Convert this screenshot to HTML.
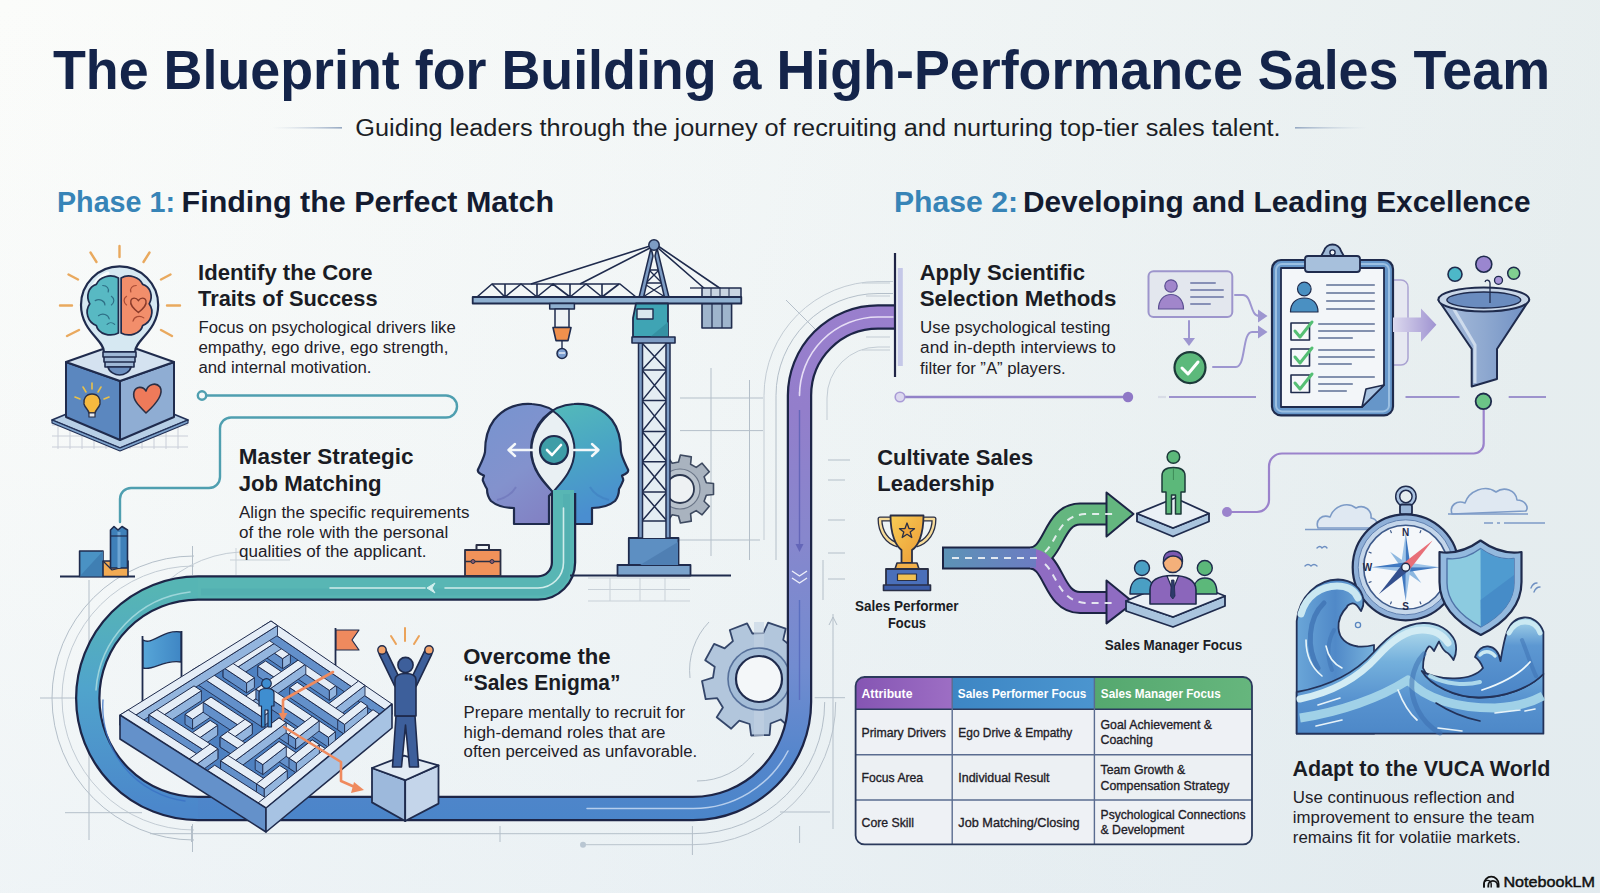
<!DOCTYPE html>
<html><head><meta charset="utf-8"><title>The Blueprint for Building a High-Performance Sales Team</title>
<style>
html,body{margin:0;padding:0;width:1600px;height:893px;overflow:hidden;background:#f3f6f7;}
svg{display:block;font-family:"Liberation Sans",sans-serif;}
.h{font-weight:bold;fill:#1a1c24;font-size:22px;}
.b{fill:#1e2027;font-size:16px;}
.lb{font-weight:bold;fill:#1a1c24;font-size:14.5px;}
.tb{fill:#1e2027;font-size:13.5px;stroke:#1e2027;stroke-width:0.35px;}
.th{fill:#fff;font-size:13.5px;font-weight:bold;}
.ol{stroke:#1c2444;stroke-width:2;fill:none;stroke-linejoin:round;stroke-linecap:round;}
.bp{stroke:#b9c3cc;stroke-width:1;fill:none;}
</style></head>
<body>
<svg width="1600" height="893" viewBox="0 0 1600 893">
<defs>
<linearGradient id="bg" x1="0" y1="0" x2="1" y2="0.15">
<stop offset="0" stop-color="#fbfcfa"/><stop offset="0.5" stop-color="#f2f6f6"/><stop offset="1" stop-color="#e7eeef"/>
</linearGradient>
<linearGradient id="bgv" x1="0" y1="0" x2="0" y2="1">
<stop offset="0" stop-color="#d7e4f0" stop-opacity="0"/><stop offset="0.5" stop-color="#d7e4f0" stop-opacity="0.08"/><stop offset="1" stop-color="#d7e4f0" stop-opacity="0.28"/>
</linearGradient>
<linearGradient id="subL" x1="0" x2="1"><stop offset="0" stop-color="#c7d2de" stop-opacity="0"/><stop offset="1" stop-color="#95a8c2"/></linearGradient>
<linearGradient id="subR" x1="0" x2="1"><stop offset="0" stop-color="#95a8c2"/><stop offset="1" stop-color="#c7d2de" stop-opacity="0"/></linearGradient>
<linearGradient id="gB" gradientUnits="userSpaceOnUse" x1="0" y1="590" x2="0" y2="808"><stop offset="0" stop-color="#56b5b4"/><stop offset="0.45" stop-color="#50a4cc"/><stop offset="1" stop-color="#4b87cb"/></linearGradient>
<linearGradient id="gC" gradientUnits="userSpaceOnUse" x1="0" y1="822" x2="0" y2="305"><stop offset="0" stop-color="#4a85c9"/><stop offset="0.12" stop-color="#5486cc"/><stop offset="0.3" stop-color="#728cd0"/><stop offset="0.55" stop-color="#8787cd"/><stop offset="0.8" stop-color="#937ecb"/><stop offset="1" stop-color="#9a7fcd"/></linearGradient>
<linearGradient id="hL" x1="0" y1="0" x2="0.6" y2="1"><stop offset="0" stop-color="#7694d0"/><stop offset="0.6" stop-color="#8392cd"/><stop offset="1" stop-color="#8282c4"/></linearGradient>
<linearGradient id="hR" x1="0" y1="0" x2="0.3" y2="1"><stop offset="0" stop-color="#55bdb8"/><stop offset="0.5" stop-color="#4aa6c4"/><stop offset="1" stop-color="#4a8ed0"/></linearGradient>
<linearGradient id="arr" x1="0" x2="1"><stop offset="0" stop-color="#dcd9ee"/><stop offset="1" stop-color="#9f93d1"/></linearGradient>
<linearGradient id="fun" x1="0" x2="1"><stop offset="0" stop-color="#a9bddb"/><stop offset="0.5" stop-color="#8fa9d0"/><stop offset="1" stop-color="#6f8fc3"/></linearGradient>
<linearGradient id="road" gradientUnits="userSpaceOnUse" x1="942" y1="0" x2="1036" y2="0"><stop offset="0" stop-color="#5c93b6"/><stop offset="1" stop-color="#6c7cc2"/></linearGradient>
<linearGradient id="gold" x1="0" y1="0" x2="1" y2="1"><stop offset="0" stop-color="#f8cc55"/><stop offset="1" stop-color="#eb9a35"/></linearGradient>
<linearGradient id="wv1" x1="0" y1="0" x2="1" y2="0"><stop offset="0" stop-color="#6aa6d8"/><stop offset="0.5" stop-color="#5089c8"/><stop offset="1" stop-color="#78b2dc"/></linearGradient>
<linearGradient id="wv2" x1="0" y1="0" x2="0" y2="1"><stop offset="0" stop-color="#b9e0ee"/><stop offset="0.35" stop-color="#74b0dc"/><stop offset="0.7" stop-color="#5792cf"/><stop offset="1" stop-color="#4d88c8"/></linearGradient>
<linearGradient id="wv3" x1="0" y1="0" x2="0" y2="1"><stop offset="0" stop-color="#a9d7ea"/><stop offset="0.35" stop-color="#5d98d2"/><stop offset="1" stop-color="#4a84c6"/></linearGradient>
<linearGradient id="thP" x1="0" x2="1"><stop offset="0" stop-color="#8555b3"/><stop offset="1" stop-color="#9d6ec4"/></linearGradient>
<linearGradient id="thB" x1="0" x2="1"><stop offset="0" stop-color="#3d86c4"/><stop offset="1" stop-color="#4b95cf"/></linearGradient>
<linearGradient id="thG" x1="0" x2="1"><stop offset="0" stop-color="#55a86f"/><stop offset="1" stop-color="#66b67d"/></linearGradient>
<linearGradient id="flagB" x1="0" x2="1"><stop offset="0" stop-color="#57a6d8"/><stop offset="1" stop-color="#3f86c4"/></linearGradient>
</defs>
<rect width="1600" height="893" fill="url(#bg)"/>
<rect width="1600" height="893" fill="url(#bgv)"/>

<!-- BLUEPRINT -->
<g id="blueprint" fill="none" stroke="#b4bfc9" stroke-width="1">
<!-- left curve arcs -->
<path d="M194 556 A142 142 0 0 0 194 840"/>
<path d="M194 566 A132 132 0 0 0 194 830" stroke="#c3ccd4"/>
<path d="M89 580 V840 M40 698 H79 M65 812.7 H142 M192.5 546 V575 M192.5 824 V852"/>
<!-- bottom lines -->
<path d="M150 833.7 H693 A131.7 131.7 0 0 0 824.7 702"/>
<path d="M583 844.7 H693 A142.7 142.7 0 0 0 835.7 702" stroke="#b9c3cc"/>
<circle cx="583" cy="844.7" r="3" fill="#b9c6d2" stroke="none"/>
<path d="M191.5 826 V842 M500 826 V842 M692.4 826 V855 M799.6 826 V843 M780 812 H830"/>
<!-- right of purple track -->
<path d="M833 614 V829 M823 560 V600 M814.7 697.7 H845 M828 520 H845 M828 460 H850 M828 480 H845 M828 553 H845 M828 579 H845"/>
<path d="M829 625 l4 -8 l4 8" />
<!-- gear arcs -->
<path d="M709 622 A70 70 0 0 0 690 678"/>
<path d="M697 781 A72 72 0 0 0 754 753"/>
<!-- crane area grid -->
<path d="M680 398 H763 M680 430.6 H763 M678 540 H760 M711 368 V556 M749.5 380 V560"/>
<path d="M588 578 H690 M588 601 H690 M610 578 V601 M640 578 V601 M665 578 V601 M588 589.5 H690" stroke="#c9d1d8"/>
<!-- arcs around purple curve -->
<path d="M776 560 V395.5 A102 102 0 0 1 878 293.5 H893"/>
<path d="M764 540 V395.5 A114 114 0 0 1 878 281.5 H893" stroke="#c3ccd4"/>
<path d="M786 300 L820 334"/>
<path d="M827 420 V398 A51 51 0 0 1 878 347 H890" stroke="#c3ccd4"/>
<!-- misc ticks near apply -->
<path d="M862 283 H890 M866 296 H890 M866 337 H890 M862 350 H890" stroke="#c3ccd4"/>
<!-- left cube area -->
<path d="M230 560 H290 M236 548 V575" stroke="#c9d1d8"/>
<path d="M240 552 A120 120 0 0 0 150 600" stroke="#c3ccd4"/>
</g>

<g id="behind">
<clipPath id="g2clip"><rect x="0" y="0" width="800" height="893"/></clipPath>
<!-- gear 2 (behind track) -->
<g clip-path="url(#g2clip)">
<path d="M804.9 675.3 L816.0 678.2 L813.2 696.6 L801.7 696.1 L796.5 705.6 L803.2 715.1 L789.2 727.3 L780.7 719.5 L770.6 723.5 L769.6 735.0 L751.1 735.5 L749.6 724.0 L739.3 720.6 L731.2 728.7 L716.7 717.2 L722.9 707.5 L717.2 698.2 L705.7 699.2 L702.0 681.0 L713.0 677.6 L714.7 666.8 L705.2 660.2 L714.1 643.9 L724.7 648.3 L732.9 641.1 L729.8 630.0 L747.1 623.3 L752.4 633.5 L763.3 633.2 L768.1 622.7 L785.7 628.7 L783.2 639.9 L791.8 646.7 L802.2 641.8 L811.8 657.6 L802.7 664.6Z" fill="#b2c6dc" stroke="#34466a" stroke-width="1.8" stroke-linejoin="round"/>
<path d="M759 622 V736" stroke="#c3d3e4" stroke-width="10" opacity="0.6"/>
<circle cx="759" cy="679" r="31" fill="#a3bcd7" stroke="#56709a" stroke-width="1.6"/>
<circle cx="759" cy="679" r="23" fill="#f4f7f9" stroke="#1f2b4d" stroke-width="2.2"/>
</g>
</g>

<g id="heads" stroke="#1f2b4d" stroke-linejoin="round">
<path d="M549 524 H514 V508 C505 508 497 506 491 501 C487 496 487 492 487 489 C485 486 484 483 483 481 C482 479 484 477 484 475.5 C480 474 477 472 478 469.5 C480 465 484 458 485 452 C485 440 488 428 494 420 C504 408 518 403 532 404 C556 405 575 425 575 450 C575 470 561 484 553 492 L549 496 Z" fill="url(#hL)" stroke-width="2.2"/>
<path d="M557 524 H592 V508 C601 508 609 506 615 501 C619 496 619 492 619 489 C621 486 622 483 623 481 C624 479 622 477 622 475.5 C626 474 629 472 628 469.5 C626 465 622 458 621 452 C621 440 618 428 612 420 C602 408 588 403 574 404 C550 405 531 425 531 450 C531 470 545 484 553 492 L557 496 Z" fill="url(#hR)" stroke-width="2.2"/>
<path d="M497 500 C505 498 512 494 516 487" fill="none" stroke="#6b72b8" stroke-width="2" opacity="0.6"/>
<path d="M609 500 C601 498 594 494 590 487" fill="none" stroke="#3f7fc0" stroke-width="2" opacity="0.6"/>
<path d="M553 411 C540 420 531.5 435 531.5 450 C531.5 470 545 483 553 492 C561 483 574.5 470 574.5 450 C574.5 435 566 420 553 411 Z" fill="#e9f0f3" stroke-width="2"/>
<g stroke="#f4f8fa" stroke-width="2.4" fill="none" stroke-linecap="round">
<path d="M533 450 H509 M515 444 L508.5 450 L515 456"/>
<path d="M574 450 H598 M592 444 L598.5 450 L592 456"/>
</g>
<circle cx="554" cy="450" r="14" fill="#3e9da7" stroke-width="2.2"/>
<path d="M547 450 L552 455 L561 445" fill="none" stroke="#fff" stroke-width="2.6" stroke-linecap="round"/>
</g>

<!-- TRACK -->
<g id="track" fill="none" stroke-linejoin="round">
<path d="M563.5 493 V562.5 A25.5 25.5 0 0 1 538 588 H198 A110.25 110.25 0 0 0 198 808.5 H693 A106.5 106.5 0 0 0 799.5 702 V395.5 A78.5 78.5 0 0 1 878 317 H894" stroke="#1d2547" stroke-width="25.5"/>
<path d="M563.5 490 V562.5 A25.5 25.5 0 0 1 538 588 H198" stroke="#58b6b4" stroke-width="21"/>
<path d="M563.5 490 V562.5 A25.5 25.5 0 0 1 538 588 H198" stroke="#4aa7ad" stroke-width="7" transform="translate(3,4)" opacity="0.35"/>
<path d="M198 588 A110.25 110.25 0 0 0 198 808.5" stroke="url(#gB)" stroke-width="21"/>
<path d="M198 808.5 H693 A106.5 106.5 0 0 0 799.5 702 V395.5 A78.5 78.5 0 0 1 878 317 H894" stroke="url(#gC)" stroke-width="21"/>

<g stroke="#e6f6f5" stroke-width="1.6" stroke-linecap="round" opacity="0.85">
<path d="M563.5 508 V562.5 A25.5 25.5 0 0 1 538 588 H445"/>
<path d="M425 588 H330"/>
<path d="M190 592 A106 106 0 0 0 96 690" stroke="#a9dcdf"/>
</g>
<g stroke="#cfe0f5" stroke-width="1.5" stroke-linecap="round" opacity="0.8">
<path d="M103 700 A95 95 0 0 0 185 801" stroke="#3a70c4" stroke-width="1.4"/>
<path d="M587 808.5 H693 A106.5 106.5 0 0 0 788 751"/>
</g>
<g stroke="#eee8fa" stroke-width="1.6" stroke-linecap="round" opacity="0.9">
<path d="M799.5 392 V395.5 A78.5 78.5 0 0 1 878 317 H893"/>
</g>
<path d="M799.5 410 V548" stroke="#6466b8" stroke-width="1.4"/>
<path d="M795.5 544 L799.5 552 L803.5 544 Z" fill="#6466b8"/>
<path d="M792 571 l7.5 5 l7.5 -5 M792 578 l7.5 5 l7.5 -5" stroke="#eef0fa" stroke-width="1.4"/>
<path d="M799.5 600 V700" stroke="#5a6fc0" stroke-width="1.4"/>
<path d="M435 583 l-8 5 l8 5 l-3 -5z" fill="#d2efee" stroke="#d2efee" stroke-width="1"/>
</g>

<!-- ILLUSTRATIONS -->
<g id="ill">
<!-- bulb + box -->
<g id="bulb">
<g stroke="#c9ced8" stroke-width="1" fill="none">
<path d="M52 425 H188 M52 436 H188 M52 447 H188"/>
<path d="M58 421 V449 M70 421 V449 M82 421 V449 M94 421 V449 M106 421 V449 M118 421 V449 M130 421 V449 M142 421 V449 M154 421 V449 M166 421 V449 M178 421 V449"/>
</g>
<path d="M52 420 L120 448 L188 420 L120 392 Z" fill="#b7cfe6" stroke="#223157" stroke-width="1.8" stroke-linejoin="round"/>
<path d="M52 420 L120 448 L188 420 L188 423 L120 451 L52 423 Z" fill="#7ea3cc" stroke="#223157" stroke-width="1.2" stroke-linejoin="round"/>
<path d="M66 362 L120 381 L120 440 L66 417 Z" fill="#5b87bf" stroke="#1f2b4d" stroke-width="2" stroke-linejoin="round"/>
<path d="M120 381 L174 362 L174 417 L120 440 Z" fill="#8fadd3" stroke="#1f2b4d" stroke-width="2" stroke-linejoin="round"/>
<path d="M66 362 L120 343 L174 362 L120 381 Z" fill="#d4e2f0" stroke="#1f2b4d" stroke-width="2" stroke-linejoin="round"/>
<!-- small bulb on left face -->
<g stroke-linecap="round">
<path d="M86 392 l-3 -5 M92 389 v-6 M98 392 l3 -5 M80 399 l-5 -2 M104 399 l5 -2" stroke="#e8c04a" stroke-width="1.6"/>
<path d="M92 394 c-6 0 -9 5 -8 10 c1 4 4 5 5 9 h6 c1 -4 4 -5 5 -9 c1 -5 -2 -10 -8 -10z" fill="#f6b93f" stroke="#2a2f45" stroke-width="1.4"/>
<path d="M89 413 h6 v4 h-6z" fill="#e6e9ef" stroke="#2a2f45" stroke-width="1.2"/>
</g>
<!-- heart right face -->
<path d="M146 413 C138 405 132 399 134 392 C136 386 143 386 146 391 C148 384 156 382 160 387 C164 394 156 404 146 413 Z" fill="#ee7a5a" stroke="#2a2f45" stroke-width="1.6" stroke-linejoin="round"/>
<!-- rays -->
<g stroke="#e9a95e" stroke-width="2.4" stroke-linecap="round">
<path d="M119.5 246 V257 M90.5 252.5 L96.5 262 M149.5 252.5 L143.5 262 M68.5 274.5 L78 279.5 M170.5 274.5 L161 279.5 M60 305.5 H72 M167 305.5 H180 M67 336 L79 330 M172 336 L161 330"/>
</g>
<!-- bulb glass -->
<path d="M104 352 C104 340 81 331 81 305 A38.6 38.6 0 1 1 158.2 305 C158.2 331 135 340 135 352 Z" fill="#d6e8f2" stroke="#1f2b4d" stroke-width="2.2" stroke-linejoin="round"/>
<path d="M89 296 A32 32 0 0 1 108 273" stroke="#fff" stroke-width="3" fill="none" stroke-linecap="round" opacity="0.8"/>
<!-- brain -->
<g transform="translate(119.5 306) scale(1.08) translate(-119.5 -305)">
<path d="M118.5 279 C111 275 101 278 98 285 C91 287 88 296 92 303 C87 310 90 320 98 323 C100 331 111 334 118.5 330 Z" fill="#58b9c3" stroke="#1f2b4d" stroke-width="1.6" stroke-linejoin="round"/>
<path d="M121 279 C128 275 138 278 141 285 C148 287 151 296 147 303 C152 310 149 320 141 323 C139 331 128 334 121 330 Z" fill="#f28e6b" stroke="#1f2b4d" stroke-width="1.6" stroke-linejoin="round"/>
<g stroke="#2e6f86" stroke-width="1.1" fill="none" stroke-linecap="round">
<path d="M104 286 c4 0 6 3 5 6 M97 300 c4 -2 9 0 9 4 M100 314 c4 -3 9 -1 10 3 M112 296 c3 2 3 6 0 8 M108 322 c2 -2 5 -2 7 0"/>
</g>
<g stroke="#a84a34" stroke-width="1.1" fill="none" stroke-linecap="round">
<path d="M135 286 c-4 0 -6 3 -5 6 M142 316 c-4 -3 -9 -1 -10 3 M126 296 c-3 2 -3 6 0 8"/>
</g>
<path d="M137 311 C132 307 129 304 130 300 C131 297 135 297 137 300 C139 297 143 297 144 300 C145 304 142 307 137 311 Z" fill="none" stroke="#8a3a2a" stroke-width="1.3"/>
</g>
<!-- bulb base -->
<path d="M103 352 H136 V357 H103 Z M104 357 H135 V362 H104 Z M105 362 H134 V367 H105 Z" fill="#9fb8d6" stroke="#1f2b4d" stroke-width="1.6" stroke-linejoin="round"/>
<path d="M108 367 H131 C130 372 124 375 119.5 375 C115 375 109 372 108 367 Z" fill="#6c8fbf" stroke="#1f2b4d" stroke-width="1.6"/>
</g>

<!-- teal connector -->
<g fill="none" stroke="#4f9fb0" stroke-width="2.4" stroke-linecap="round" stroke-linejoin="round">
<path d="M206 395.5 H446 A11 11 0 0 1 446 417.5 H231 A11 11 0 0 0 220 428.5 V477 A11 11 0 0 1 209 488 H131 A11 11 0 0 0 120 499 V522"/>
<circle cx="202" cy="395.5" r="4.2" fill="#f5f8f8"/>
</g>

<g id="crane" stroke="#1f2b4d" stroke-linejoin="round">
<!-- gear 1 behind mast -->
<path d="M706.3 482.8 L713.5 483.5 L713.5 494.5 L706.3 495.2 L704.1 501.2 L709.3 506.3 L702.1 514.8 L696.2 510.6 L690.6 513.8 L691.3 521.1 L680.4 523.0 L678.5 516.0 L672.2 514.8 L668.0 520.8 L658.4 515.3 L661.5 508.7 L657.4 503.8 L650.4 505.7 L646.6 495.3 L653.2 492.2 L653.2 485.8 L646.6 482.7 L650.4 472.3 L657.4 474.2 L661.5 469.3 L658.4 462.7 L668.0 457.2 L672.2 463.2 L678.5 462.0 L680.4 455.0 L691.3 456.9 L690.6 464.2 L696.2 467.4 L702.1 463.2 L709.3 471.7 L704.1 476.8Z" fill="#a9b3bf" stroke="#3e4a60" stroke-width="1.6"/>
<circle cx="680" cy="489" r="20" fill="#b9c2cc" stroke="#6a7587" stroke-width="1.2"/>
<circle cx="680" cy="489" r="14" fill="#eef1f3" stroke="#2d3850" stroke-width="1.8"/>
<!-- ground -->
<path d="M570 575.5 H731" stroke-width="1.8"/>
<!-- base -->
<rect x="617.5" y="565" width="73" height="10.5" fill="#7aa2cb" stroke-width="1.8"/>
<rect x="628.8" y="538" width="49.7" height="27" fill="#5d8fc2" stroke-width="1.8"/>
<path d="M640 565 L678 542 V565 Z" fill="#4f7fb3" stroke="none"/>
<!-- mast -->
<rect x="639" y="343" width="31" height="195" fill="#e4edf3" stroke="none"/>
<g fill="none" stroke-width="1.5">
<path d="M642 370 H667 M642 400.6 H667 M642 431.5 H667 M642 461.8 H667 M642 492 H667 M642 521 H667"/>
<path d="M642 343 L667 370 M667 343 L642 370 M642 370 L667 400.6 M667 370 L642 400.6 M642 400.6 L667 431.5 M667 400.6 L642 431.5 M642 431.5 L667 461.8 M667 431.5 L642 461.8 M642 461.8 L667 492 M667 461.8 L642 492 M642 492 L667 521 M667 492 L642 521"/>
</g>
<rect x="638.5" y="343" width="4" height="195" fill="#7d9cc4" stroke-width="1.5"/>
<rect x="666" y="343" width="4" height="195" fill="#7d9cc4" stroke-width="1.5"/>
<!-- A-frame -->
<g fill="none" stroke-width="1.4">
<path d="M649 270 H659 M646 283 H662 M643 297 L665 283 M665 297 L643 283 M649 270 L662 283 M659 270 L646 283"/>
</g>
<path d="M651 248 L639 297.5 H643.5 L653 256 Z" fill="#7d9cc4" stroke-width="1.5"/>
<path d="M657 248 L669 297.5 H664.5 L655 256 Z" fill="#7d9cc4" stroke-width="1.5"/>
<!-- cables -->
<path d="M650 246 L531 284 M650 248 L580 284 M658 246 L721 289 M658 248 L705 289" stroke-width="1.6" fill="none"/>
<circle cx="654" cy="245" r="5.2" fill="#7d9cc4" stroke-width="1.5"/>
<!-- truss -->
<g fill="none" stroke-width="1.6">
<path d="M477 297 L492 284 H620 L636 297"/>
<path d="M492 284 L505 297 L521 284 L537 297 L553 284 L570 297 L586 284 L602 297 L619 284 M505 297 V284 M537 297 V284 M570 297 V284 M602 297 V284"/>
</g>
<!-- counterweight -->
<rect x="702" y="288" width="39" height="9" fill="#c9d5e2" stroke-width="1.5"/>
<path d="M711 288 V297 M720 288 V297 M729 288 V297" stroke-width="1"/>
<path d="M690 288 H702" stroke-width="1.3"/>
<rect x="702" y="303.5" width="29.6" height="24.5" fill="#9fb5cc" stroke-width="1.6"/>
<path d="M712 303.5 V328 M722 303.5 V328" stroke-width="1.2"/>
<!-- jib beam -->
<rect x="472.7" y="297" width="268.6" height="6.5" fill="#8fb0d0" stroke-width="1.8"/>
<!-- cab -->
<path d="M636 303.5 H668 V337 H633 V318 Z" fill="#3fa4b4" stroke-width="1.8"/>
<rect x="637" y="309" width="16" height="10" fill="#d9e8ee" stroke-width="1.4"/>
<path d="M650 337 L668 322 V337 Z" fill="#3591a3" stroke="none"/>
<rect x="632" y="337" width="43" height="6" fill="#7d9cc4" stroke-width="1.6"/>
<!-- trolley + hook -->
<rect x="549.7" y="303.5" width="24.7" height="5.5" fill="#8fb0d0" stroke-width="1.5"/>
<rect x="555" y="309" width="14" height="18.5" fill="#eef2f5" stroke-width="1.5"/>
<path d="M553 327.5 H571 L568 340.6 H556 Z" fill="#f0904d" stroke-width="1.6"/>
<path d="M562 340.6 V348" stroke-width="1.4"/>
<circle cx="562" cy="353.5" r="5" fill="#7d9fd0" stroke-width="1.5"/>
<path d="M559 353 H565" stroke="#fff" stroke-width="1.2"/>
</g>
<!-- briefcase -->
<g stroke="#2a2f45" stroke-linejoin="round">
<path d="M476.5 550 V545 H489 V550" fill="none" stroke-width="2"/>
<rect x="465" y="550" width="35.5" height="26" fill="#f0925a" stroke-width="1.8"/>
<path d="M465 561.5 H500.5" stroke-width="1.4"/>
<circle cx="473" cy="561.5" r="2" fill="#8e5a6c" stroke-width="1"/>
<circle cx="492" cy="561.5" r="2" fill="#8e5a6c" stroke-width="1"/>
</g>


<!-- apply connector dots -->
<g>
<path d="M895 253 V377" stroke="#1f2446" stroke-width="2.2"/>
<rect x="897.8" y="268" width="5" height="98" fill="#c5c8e8"/>
<path d="M900 397 H1128" stroke="#9282c8" stroke-width="2.4"/>
<circle cx="900" cy="397" r="4.8" fill="#dcd8ef" stroke="#a99bd6" stroke-width="1.6"/>
<circle cx="1128" cy="397" r="5.2" fill="#8f78c6"/>
<path d="M1158 397 H1166" stroke="#d8dce6" stroke-width="2.2"/>
<path d="M1169 397 H1256 M1405.5 397 H1459.5 M1508.7 397 H1546" stroke="#9d93cd" stroke-width="2"/>
</g>
<!-- ID card -->
<g>
<rect x="1148.5" y="271.2" width="83.8" height="45.8" rx="5" fill="#e3e7ee" stroke="#9d95cc" stroke-width="2"/>
<circle cx="1171" cy="286" r="6.2" fill="#a186cb" stroke="#5b4f92" stroke-width="1.2"/>
<path d="M1158.5 309 C1158.5 300 1164 294.5 1171 294.5 C1178 294.5 1183.5 300 1183.5 309 Z" fill="#a186cb" stroke="#5b4f92" stroke-width="1.2"/>
<path d="M1191 283 H1215 M1191 290 H1223 M1191 297 H1223 M1191 304 H1210" stroke="#8790b6" stroke-width="2" stroke-linecap="round"/>
</g>
<g fill="none" stroke="#9d96d0" stroke-width="2" stroke-linecap="round">
<path d="M1235 295 H1243 C1252 295 1250 316 1259 316"/>
<path d="M1189 321 V342"/>
<path d="M1213 367 H1236 C1246 367 1242 332 1252 332 H1259"/>
</g>
<g fill="#9d96d0">
<path d="M1258 309.5 L1267.5 316 L1258 322.5 Z"/>
<path d="M1258 325.5 L1267.5 332 L1258 338.5 Z"/>
<path d="M1183 338 L1189 346 L1195 338 Z"/>
</g>
<circle cx="1190" cy="367.6" r="15.5" fill="#5cb97b" stroke="#1d3a3a" stroke-width="2.2"/>
<path d="M1182 368 L1188 374 L1198 362" fill="none" stroke="#fff" stroke-width="3" stroke-linecap="round" stroke-linejoin="round"/>
<!-- clipboard -->
<rect x="1380" y="280" width="28" height="85" rx="7" fill="#e6e8f1" stroke="#aaa3d2" stroke-width="1.5"/>

<g stroke="#1f2b4d" stroke-linejoin="round">
<rect x="1272" y="260" width="121" height="155.4" rx="9" fill="#6696c9" stroke-width="2.2"/>
<rect x="1276" y="264" width="113" height="147.4" rx="6" fill="none" stroke="#9cc0e2" stroke-width="2"/>
<path d="M1281 268 H1384 V385 L1362 407 H1281 Z" fill="#f3f6f9" stroke-width="1.8"/>
<path d="M1384 385 L1362 407 L1366 389 Z" fill="#a9c4e2" stroke-width="1.6"/>
<path d="M1320 258 L1324 251 A8.8 8.8 0 0 1 1341 251 L1345 258 Z" fill="#9db8d6" stroke-width="1.8"/>
<circle cx="1332.5" cy="252.5" r="2.6" fill="#f3f6f9" stroke-width="1.4"/>
<rect x="1305" y="256" width="55" height="16" rx="3" fill="#a7c0dc" stroke-width="1.8"/>
<circle cx="1304.3" cy="289" r="6.8" fill="#4a90c2" stroke-width="1.2"/>
<path d="M1290.5 312 C1290.5 303 1296 298 1304.3 298 C1312.5 298 1318 303 1318 312 Z" fill="#4a90c2" stroke-width="1.2"/>
<rect x="1291" y="323" width="18.5" height="17" fill="#f6f8fa" stroke-width="1.6"/>
<rect x="1291" y="349" width="18.5" height="17" fill="#f6f8fa" stroke-width="1.6"/>
<rect x="1291" y="375" width="18.5" height="17.5" fill="#f6f8fa" stroke-width="1.6"/>
</g>
<g fill="none" stroke="#55bf74" stroke-width="3" stroke-linecap="round" stroke-linejoin="round">
<path d="M1295 331 L1300 337 L1312 322"/><path d="M1295 357 L1300 363 L1312 348"/><path d="M1295 383 L1300 389 L1312 374"/>
</g>
<g stroke="#8391ae" stroke-width="2.2" stroke-linecap="round">
<path d="M1327 285 H1374 M1327 293 H1374 M1327 301 H1374 M1327 309 H1374"/>
<path d="M1319 324 H1374 M1319 331 H1374 M1319 338 H1352 M1319 350 H1374 M1319 357 H1374 M1319 364 H1351 M1319 377 H1374 M1319 384 H1352 M1319 391 H1346"/>
</g>
<!-- big arrow to funnel -->
<path d="M1393 317.5 H1421 V308.5 L1436.4 324.7 L1421 341.8 V332 H1393 Z" fill="url(#arr)"/>
<!-- funnel -->
<g stroke="#1f2b4d" stroke-linejoin="round">
<path d="M1438.4 300 L1471.7 349 V386.5 L1497 379 V349 L1529.2 300 Z" fill="url(#fun)" stroke-width="2"/>
<path d="M1452 306 L1475 345 V383" fill="none" stroke="#dbe6f2" stroke-width="3" opacity="0.8"/>
<ellipse cx="1483.8" cy="299.5" rx="45.4" ry="12" fill="#c9d7e8" stroke-width="2"/>
<ellipse cx="1483.8" cy="300" rx="37" ry="8" fill="#6a8cbf" stroke-width="1.4"/>
<path d="M1490 303 V283 C1490 280 1486 279 1485 282" fill="none" stroke-width="1.3"/>
<circle cx="1455" cy="274.3" r="7" fill="#4db8c8" stroke-width="1.6"/>
<circle cx="1483.8" cy="264.2" r="8" fill="#9a86cf" stroke-width="1.6"/>
<circle cx="1498.5" cy="280.3" r="4" fill="#a896d8" stroke-width="1.3"/>
<circle cx="1513.7" cy="273.3" r="6" fill="#80cf90" stroke-width="1.5"/>
<circle cx="1483.4" cy="401.3" r="7.8" fill="#6cc487" stroke-width="1.8"/>
</g>
<!-- purple connector -->
<path d="M1483.7 410 V443.5 A10 10 0 0 1 1473.7 453.5 H1282 A13 13 0 0 0 1269 466.5 V500 A12 12 0 0 1 1257 512 H1231" fill="none" stroke="#9b83cc" stroke-width="2.2"/>
<circle cx="1227" cy="512" r="5" fill="#9b83cc"/>

<!-- fork road -->
<g fill="none" stroke-linejoin="round">
<path d="M942 558 H1030 C1055 558 1052 514 1080 514 H1108 M1030 558 C1055 558 1052 602.5 1080 602.5 H1108" stroke="#1c2444" stroke-width="23"/>
<path d="M1030 558 C1055 558 1052 514 1080 514 H1110" stroke="#64b67f" stroke-width="19"/>
<path d="M1030 558 C1055 558 1052 602.5 1080 602.5 H1110" stroke="#8f6cc2" stroke-width="19"/>
<path d="M944 558 H1036" stroke="url(#road)" stroke-width="19"/>
</g>
<path d="M1106.5 492.5 L1133.5 514 L1106.5 536.5 Z" fill="#64b67f" stroke="#1c2444" stroke-width="2" stroke-linejoin="round"/>
<path d="M1106.5 580.4 L1133.5 602.5 L1106.5 623.4 Z" fill="#8f6cc2" stroke="#1c2444" stroke-width="2" stroke-linejoin="round"/>
<path d="M1100 505 V523.5 M1100 593 V612" stroke="none"/>
<g fill="none" stroke="#eef3f6" stroke-width="2" stroke-dasharray="7 6" opacity="0.9">
<path d="M952 558 H1040"/>
<path d="M1045 552 C1058 540 1058 516 1085 514 H1116"/>
<path d="M1045 564 C1058 576 1058 600 1085 603 H1116"/>
</g>
<!-- trophy -->
<g stroke="#2a2f45" stroke-linejoin="round">
<path d="M891 519 H880 C880 532 887 542 898 545 M923 519 H934 C934 532 927 542 916 545" fill="none" stroke="#2a2f45" stroke-width="5"/>
<path d="M891 519 H880 C880 532 887 542 898 545 M923 519 H934 C934 532 927 542 916 545" fill="none" stroke="#f7dc9a" stroke-width="2.4"/>
<path d="M890.5 515.5 H923.5 C923.5 535 918 546 912 550 V563 H901.5 V550 C896 546 890.5 535 890.5 515.5 Z" fill="url(#gold)" stroke-width="1.8"/>
<path d="M907 523 L909 528.5 L914.5 528.7 L910.2 532 L911.8 537.5 L907 534.3 L902.2 537.5 L903.8 532 L899.5 528.7 L905 528.5 Z" fill="#f0a63a" stroke-width="1.3"/>
<path d="M897 563 H917 L919 569 H895 Z" fill="#f2b04a" stroke-width="1.6"/>
<rect x="886" y="569" width="42" height="17" fill="#4a6fba" stroke-width="1.8"/>
<rect x="897.5" y="574" width="19" height="6.5" fill="#f2c151" stroke-width="1.2"/>
<rect x="883.5" y="585" width="47" height="5.5" fill="#3c5da8" stroke-width="1.6"/>
</g>
<!-- platform 1 -->
<g stroke="#1f2b4d" stroke-linejoin="round">
<path d="M1137 513.5 L1173 528 L1209 513.5 V521.5 L1173 536.5 L1137 521.5 Z" fill="#a9c4de" stroke-width="1.8"/>
<path d="M1137 513.5 L1175 498 L1209 513.5 L1173 528 Z" fill="#eaf0f6" stroke-width="1.8"/>
<circle cx="1173.4" cy="457" r="6.3" fill="#5cb87a" stroke="#1d3a3a" stroke-width="1.5"/>
<path d="M1162 492 V476 C1162 470 1166 467.5 1173.4 467.5 C1181 467.5 1185 470 1185 476 V492 H1181 V514 H1175.5 V495 H1171.5 V514 H1166 V492 Z" fill="#5cb87a" stroke="#1d3a3a" stroke-width="1.5"/>
<path d="M1173.4 468 V480" stroke="#3d8a57" stroke-width="1"/>
</g>
<!-- platform 2 -->
<g stroke="#1f2b4d" stroke-linejoin="round">
<path d="M1126 601 L1173 617 L1225 596 V606 L1173 627 L1126 611 Z" fill="#a9c4de" stroke-width="1.8"/>
<path d="M1126 601 L1180 578 L1225 596 L1173 617 Z" fill="#eaf0f6" stroke-width="1.8"/>
<circle cx="1142" cy="568" r="7.5" fill="#4a9fc4" stroke-width="1.4"/>
<path d="M1130 594 C1130 583 1135 578 1142 578 C1149 578 1154 583 1154 594 Z" fill="#4a9fc4" stroke-width="1.4"/>
<circle cx="1204.8" cy="568" r="7.5" fill="#5cb87a" stroke-width="1.4"/>
<path d="M1193 594 C1193 583 1198 578 1204.8 578 C1212 578 1217 583 1217 594 Z" fill="#5cb87a" stroke-width="1.4"/>
<path d="M1150 604 V590 C1150 580 1159 575.5 1172.8 575.5 C1186 575.5 1196 580 1196 590 V604 Z" fill="#8b66bb" stroke-width="1.6"/>
<path d="M1167 576 L1172.8 590 L1178.5 576 Z" fill="#f4f6f8" stroke-width="1.2"/>
<path d="M1171.5 580 H1174 L1175 596 L1172.8 599 L1170.5 596 Z" fill="#2d3a6a" stroke-width="0.8"/>
<circle cx="1172.8" cy="563" r="9.5" fill="#f4b07a" stroke-width="1.5"/>
<path d="M1163.5 562 C1163 553 1168 551 1173 551 C1179 551 1183 554 1182.5 562 C1180 557 1176 556 1173 556 C1169 556 1166 558 1163.5 562 Z" fill="#7a58b0" stroke-width="1.3"/>
</g>


<!-- VUCA illustration -->
<g id="vuca" stroke-linejoin="round">
<g fill="#dfe8f2" stroke="#7d9bc7" stroke-width="1.6">
<path d="M1318 528 C1315 520 1322 514 1330 517 C1334 506 1347 501 1356 508 C1364 504 1372 510 1371 518 C1377 519 1379 525 1376 528 Z"/>
<path d="M1452 514 C1449 505 1457 500 1465 503 C1469 491 1485 484 1496 492 C1504 486 1516 490 1517 500 C1525 500 1529 507 1526 511 Z"/>
</g>
<path d="M1305 529.5 H1372 M1448 514 H1528" stroke="#7d9bc7" stroke-width="1.6"/>
<path d="M1484 523 H1493 M1497 523 H1500 M1504 523 H1545" stroke="#7d9bc7" stroke-width="1.6"/>
<g fill="none" stroke="#6d8fc2" stroke-width="1.4" stroke-linecap="round">
<path d="M1317 548 q3 -3 5 0 q3 -3 5 0"/><path d="M1305 566 q3 -3 6 0 q3 -3 6 0"/><path d="M1531 588 q2 -5 6 -5 M1534 592 q2 -5 6 -5"/>
</g>
<!-- compass -->
<circle cx="1405.9" cy="496.5" r="8.2" fill="none" stroke="#1f2b4d" stroke-width="5.5"/>
<circle cx="1405.9" cy="496.5" r="8.2" fill="none" stroke="#a9c2e0" stroke-width="2.6"/>
<rect x="1400" y="504.5" width="12" height="10" rx="2" fill="#9ab6d8" stroke="#1f2b4d" stroke-width="1.8"/>
<circle cx="1405.7" cy="567.3" r="53" fill="#8fb0d8" stroke="#1f2b4d" stroke-width="2.2"/>
<circle cx="1405.7" cy="567.3" r="47.5" fill="#c4d6ea" stroke="#5f80b0" stroke-width="1"/>
<circle cx="1405.7" cy="567.3" r="42" fill="#f4f7fa" stroke="#3e5a8a" stroke-width="1.6"/>
<path d="M1419.9 533.1 L1421.0 530.3 M1439.9 553.1 L1442.7 552.0 M1439.9 581.5 L1442.7 582.6 M1419.9 601.5 L1421.0 604.3 M1391.5 601.5 L1390.4 604.3 M1371.5 581.5 L1368.7 582.6 M1371.5 553.1 L1368.7 552.0 M1391.5 533.1 L1390.4 530.3" stroke="#3e5a8a" stroke-width="1.2"/>
<path d="M1402.9 564.5 L1421.3 551.7 L1408.5 570.1 Z" fill="#8db8e0"/><path d="M1408.5 564.5 L1421.3 582.9 L1402.9 570.1 Z" fill="#8db8e0"/><path d="M1408.5 570.1 L1390.1 582.9 L1402.9 564.5 Z" fill="#8db8e0"/><path d="M1402.9 570.1 L1390.1 551.7 L1408.5 564.5 Z" fill="#8db8e0"/>
<path d="M1405.7 567.3 L1400.7 567.3 L1405.7 533.3 Z" fill="#9cc3e8"/><path d="M1405.7 567.3 L1410.7 567.3 L1405.7 533.3 Z" fill="#3f78c0"/><path d="M1405.7 567.3 L1405.7 562.3 L1439.7 567.3 Z" fill="#9cc3e8"/><path d="M1405.7 567.3 L1405.7 572.3 L1439.7 567.3 Z" fill="#3f78c0"/><path d="M1405.7 567.3 L1410.7 567.3 L1405.7 601.3 Z" fill="#9cc3e8"/><path d="M1405.7 567.3 L1400.7 567.3 L1405.7 601.3 Z" fill="#3f78c0"/><path d="M1405.7 567.3 L1405.7 572.3 L1371.7 567.3 Z" fill="#9cc3e8"/><path d="M1405.7 567.3 L1405.7 562.3 L1371.7 567.3 Z" fill="#3f78c0"/>
<path d="M1402.5 564.1 L1432.6 540.4 L1408.9 570.5 Z" fill="#e86f78"/><path d="M1402.5 564.1 L1378.8 594.2 L1408.9 570.5 Z" fill="#34508e"/>
<circle cx="1405.7" cy="567.3" r="4" fill="#eef3f8" stroke="#1f2b4d" stroke-width="1.4"/>
<g font-family="Liberation Sans" font-weight="bold" font-size="10" fill="#1f2b4d" text-anchor="middle">
<text x="1405.7" y="536">N</text><text x="1405.7" y="610">S</text><text x="1367.5" y="571">W</text>
</g>
<!-- shield -->
<path d="M1480.5 540.5 C1466 551 1453 554 1439.5 552 V582 C1439.5 606 1457 623 1480.8 635 C1504.5 623 1521.5 606 1521.5 582 V552 C1508 554 1495 551 1480.5 540.5 Z" fill="#93b9de" stroke="#1f2b4d" stroke-width="2.2"/>
<path d="M1480.5 548.5 C1469 557 1458 560 1447 558.5 V583 C1447 602 1461 616 1480.8 627 C1500.5 616 1514 602 1514 583 V558.5 C1503 560 1492 557 1480.5 548.5 Z" fill="#8ccbe0" stroke="#4f73a8" stroke-width="1.4"/>
<path d="M1480.5 548.5 C1492 557 1503 560 1514 558.5 V583 C1514 602 1500.5 616 1480.8 627 Z" fill="#4f9bd0"/>
<path d="M1480.5 600 L1514 575 V583 C1514 602 1500.5 616 1480.8 627 Z" fill="#4386c4" opacity="0.7"/>
<!-- waves -->
<path d="M1296.7 733.7 V621 C1299 596 1318 579.5 1338 579.5 C1352 580 1362 588 1363.5 600 C1364 606 1362 609 1361 611 C1358 606 1355 603 1352.5 603.3 C1349 604 1347 606 1347 607 C1342 612 1338 620 1338.5 628 C1339 638 1346 645 1358 646.5 C1365 647 1370 646 1374 645 L1374 733.7 Z" fill="url(#wv1)" stroke="#233259" stroke-width="1.8"/>
<path d="M1301 614 C1306 596 1321 586 1337 586 C1348 586 1355 591 1358 598" fill="none" stroke="#c9e7f1" stroke-width="7" stroke-linecap="round"/>
<path d="M1318 668 C1306 648 1308 618 1324 603" fill="none" stroke="#3c6fb1" stroke-width="5" opacity="0.7" stroke-linecap="round"/>
<path d="M1332 670 C1326 655 1328 640 1334 630" fill="none" stroke="#3c6fb1" stroke-width="4" opacity="0.5" stroke-linecap="round"/>
<path d="M1306 640 C1306 655 1312 668 1322 676 M1326 646 C1328 656 1334 664 1342 668" fill="none" stroke="#e9f6fa" stroke-width="1.6" stroke-linecap="round"/>
<path d="M1296.7 692 C1330 686 1356 672 1374 652 C1390 634 1405 623.5 1423 623 C1438 622.5 1450 630 1455 641 C1457 648 1456 655 1453.5 660 C1451 656 1448 653 1446 652 C1443 650 1441 646 1439 641.5 C1437 645 1435 649 1434 651 C1432 648 1430 646 1429 646.4 C1425 650 1423 660 1423 668 C1430 685 1455 698 1480 697.5 C1505 697 1530 688 1543.4 674 V733.7 H1296.7 Z" fill="url(#wv2)" stroke="#233259" stroke-width="1.8"/>
<path d="M1300 699 C1334 692 1359 677 1377 657 C1392 640 1406 630 1422 630 C1434 630 1443 635 1448 643" fill="none" stroke="#d3ecf4" stroke-width="7" stroke-linecap="round"/>
<path d="M1300 718 C1340 712 1380 698 1408 680 C1425 698 1455 708 1495 708 C1515 707 1532 702 1543 696" fill="none" stroke="#a9d8ea" stroke-width="9" opacity="0.9"/>
<path d="M1440 733 C1420 722 1410 700 1412 680 C1414 668 1418 660 1424 654" fill="none" stroke="#3c6fb1" stroke-width="5" opacity="0.55" stroke-linecap="round"/>
<path d="M1421.8 671 C1426 674 1440 679 1455 678.4 C1468 678 1478 674 1483 668 C1481 663 1478 659 1475 657 C1478 649 1483 646 1488 646.4 C1494 647 1499 652 1500.5 661 C1502 652 1504 640 1507 632 C1510 624 1516 618 1524 617.5 C1532 617 1540 622 1543.4 631.8 V674 C1530 688 1505 697 1480 697.5 C1455 698 1430 685 1421.8 671 Z" fill="url(#wv3)" stroke="#233259" stroke-width="1.8"/>
<path d="M1509 633 C1513 625 1518 622 1525 622 C1533 622 1538 627 1540 633" fill="none" stroke="#cbe9f2" stroke-width="5" stroke-linecap="round"/>
<path d="M1480 655 C1483 651 1490 650 1495 656" fill="none" stroke="#cbe9f2" stroke-width="3.5" stroke-linecap="round"/>
<path d="M1430 676 C1445 684 1465 686 1480 682" fill="none" stroke="#b6e0ee" stroke-width="4" stroke-linecap="round" opacity="0.9"/>
<path d="M1522 640 C1528 655 1532 668 1536 676" fill="none" stroke="#3c6fb1" stroke-width="4" opacity="0.5" stroke-linecap="round"/>
<path d="M1482 690 C1500 684 1518 676 1530 662" fill="none" stroke="#eef8fb" stroke-width="1.8" stroke-linecap="round"/>
<g fill="none" stroke="#eef8fb" stroke-width="1.7" stroke-linecap="round" opacity="0.95">
<path d="M1318 705 L1340 698 M1316 726 L1342 720 M1398 690 C1403 703 1409 713 1417 720 M1495 713 L1520 710 M1525 711 L1535 709 M1438 728 L1462 731"/>
</g>
<path d="M1436 703 C1450 712 1465 718 1480 721" fill="none" stroke="#233259" stroke-width="1.6" stroke-linecap="round"/>
<circle cx="1358" cy="625" r="2.6" fill="none" stroke="#5a86c0" stroke-width="1.3"/>
</g>


<!-- MAZE -->
<g id="maze">
<g stroke="#1f2b4d" stroke-linejoin="round">
<path d="M142.5 636 V701 M181.5 631 V678" stroke-width="1.8" fill="none"/>
<path d="M143 640 C152 646 163 629 181 632 V662 C164 659 153 671 143 668 Z" fill="url(#flagB)" stroke-width="1.4"/>
<path d="M335.5 628 V674" stroke-width="1.8" fill="none"/>
<path d="M336 630 H359 L352 640 L359 650 H336 Z" fill="#ef8a5e" stroke-width="1.2"/>
</g>
<path d="M271.0 631.0 L392.0 714.0 L266.0 818.0 L120.0 725.0Z" fill="#4e81c1" stroke="#1f2b4d" stroke-width="1.2" stroke-linejoin="round"/>
<path d="M260.3 643.6 L282.6 658.7 L282.6 668.7 L260.3 653.6Z" fill="#6390ca" stroke="#1f2b4d" stroke-width="0.9" stroke-linejoin="round"/>
<path d="M290.4 653.5 L282.6 658.7 L282.6 668.7 L290.4 663.5Z" fill="#93b5de" stroke="#1f2b4d" stroke-width="0.9" stroke-linejoin="round"/>
<path d="M268.3 638.4 L290.4 653.5 L282.6 658.7 L260.3 643.6Z" fill="#e6eef7" stroke="#1f2b4d" stroke-width="1.0" stroke-linejoin="round"/>
<path d="M223.1 667.3 L230.2 672.0 L230.2 682.0 L223.1 677.3Z" fill="#6390ca" stroke="#1f2b4d" stroke-width="0.9" stroke-linejoin="round"/>
<path d="M289.4 633.6 L230.2 672.0 L230.2 682.0 L289.4 643.6Z" fill="#93b5de" stroke="#1f2b4d" stroke-width="0.9" stroke-linejoin="round"/>
<path d="M282.9 629.1 L289.4 633.6 L230.2 672.0 L223.1 667.3Z" fill="#e6eef7" stroke="#1f2b4d" stroke-width="1.0" stroke-linejoin="round"/>
<path d="M257.7 666.2 L280.6 681.5 L280.6 691.5 L257.7 676.2Z" fill="#6390ca" stroke="#1f2b4d" stroke-width="0.9" stroke-linejoin="round"/>
<path d="M288.2 676.2 L280.6 681.5 L280.6 691.5 L288.2 686.2Z" fill="#93b5de" stroke="#1f2b4d" stroke-width="0.9" stroke-linejoin="round"/>
<path d="M265.6 661.0 L288.2 676.2 L280.6 681.5 L257.7 666.2Z" fill="#e6eef7" stroke="#1f2b4d" stroke-width="1.0" stroke-linejoin="round"/>
<path d="M223.1 667.3 L246.6 682.9 L246.6 692.9 L223.1 677.3Z" fill="#6390ca" stroke="#1f2b4d" stroke-width="0.9" stroke-linejoin="round"/>
<path d="M254.4 677.7 L246.6 682.9 L246.6 692.9 L254.4 687.7Z" fill="#93b5de" stroke="#1f2b4d" stroke-width="0.9" stroke-linejoin="round"/>
<path d="M231.2 662.2 L254.4 677.7 L246.6 682.9 L223.1 667.3Z" fill="#e6eef7" stroke="#1f2b4d" stroke-width="1.0" stroke-linejoin="round"/>
<path d="M291.5 664.7 L329.4 690.4 L329.4 700.4 L291.5 674.7Z" fill="#6390ca" stroke="#1f2b4d" stroke-width="0.9" stroke-linejoin="round"/>
<path d="M336.7 685.0 L329.4 690.4 L329.4 700.4 L336.7 695.0Z" fill="#93b5de" stroke="#1f2b4d" stroke-width="0.9" stroke-linejoin="round"/>
<path d="M299.2 659.4 L336.7 685.0 L329.4 690.4 L291.5 664.7Z" fill="#e6eef7" stroke="#1f2b4d" stroke-width="1.0" stroke-linejoin="round"/>
<path d="M238.1 701.3 L245.4 706.0 L245.4 716.0 L238.1 711.3Z" fill="#6390ca" stroke="#1f2b4d" stroke-width="0.9" stroke-linejoin="round"/>
<path d="M305.8 664.0 L245.4 706.0 L245.4 716.0 L305.8 674.0Z" fill="#93b5de" stroke="#1f2b4d" stroke-width="0.9" stroke-linejoin="round"/>
<path d="M299.2 659.4 L305.8 664.0 L245.4 706.0 L238.1 701.3Z" fill="#e6eef7" stroke="#1f2b4d" stroke-width="1.0" stroke-linejoin="round"/>
<path d="M262.8 626.1 L385.2 709.6 L385.2 719.6 L262.8 636.1Z" fill="#6390ca" stroke="#1f2b4d" stroke-width="0.9" stroke-linejoin="round"/>
<path d="M392.0 704.0 L385.2 709.6 L385.2 719.6 L392.0 714.0Z" fill="#93b5de" stroke="#1f2b4d" stroke-width="0.9" stroke-linejoin="round"/>
<path d="M271.0 621.0 L392.0 704.0 L385.2 709.6 L262.8 626.1Z" fill="#e6eef7" stroke="#1f2b4d" stroke-width="1.0" stroke-linejoin="round"/>
<path d="M191.4 670.5 L262.1 717.1 L262.1 727.1 L191.4 680.5Z" fill="#6390ca" stroke="#1f2b4d" stroke-width="0.9" stroke-linejoin="round"/>
<path d="M269.6 711.7 L262.1 717.1 L262.1 727.1 L269.6 721.7Z" fill="#93b5de" stroke="#1f2b4d" stroke-width="0.9" stroke-linejoin="round"/>
<path d="M199.6 665.5 L269.6 711.7 L262.1 717.1 L191.4 670.5Z" fill="#e6eef7" stroke="#1f2b4d" stroke-width="1.0" stroke-linejoin="round"/>
<path d="M120.0 715.0 L127.9 720.0 L127.9 730.0 L120.0 725.0Z" fill="#6390ca" stroke="#1f2b4d" stroke-width="0.9" stroke-linejoin="round"/>
<path d="M277.5 625.5 L127.9 720.0 L127.9 730.0 L277.5 635.5Z" fill="#93b5de" stroke="#1f2b4d" stroke-width="0.9" stroke-linejoin="round"/>
<path d="M271.0 621.0 L277.5 625.5 L127.9 720.0 L120.0 715.0Z" fill="#e6eef7" stroke="#1f2b4d" stroke-width="1.0" stroke-linejoin="round"/>
<path d="M148.9 714.8 L156.6 719.8 L156.6 729.8 L148.9 724.8Z" fill="#6390ca" stroke="#1f2b4d" stroke-width="0.9" stroke-linejoin="round"/>
<path d="M201.4 690.7 L156.6 719.8 L156.6 729.8 L201.4 700.7Z" fill="#93b5de" stroke="#1f2b4d" stroke-width="0.9" stroke-linejoin="round"/>
<path d="M194.0 685.9 L201.4 690.7 L156.6 719.8 L148.9 714.8Z" fill="#e6eef7" stroke="#1f2b4d" stroke-width="1.0" stroke-linejoin="round"/>
<path d="M185.0 714.3 L192.6 719.2 L192.6 729.2 L185.0 724.3Z" fill="#6390ca" stroke="#1f2b4d" stroke-width="0.9" stroke-linejoin="round"/>
<path d="M218.4 701.9 L192.6 719.2 L192.6 729.2 L218.4 711.9Z" fill="#93b5de" stroke="#1f2b4d" stroke-width="0.9" stroke-linejoin="round"/>
<path d="M211.0 697.1 L218.4 701.9 L192.6 719.2 L185.0 714.3Z" fill="#e6eef7" stroke="#1f2b4d" stroke-width="1.0" stroke-linejoin="round"/>
<path d="M321.7 709.0 L328.6 713.7 L328.6 723.7 L321.7 719.0Z" fill="#6390ca" stroke="#1f2b4d" stroke-width="0.9" stroke-linejoin="round"/>
<path d="M365.0 685.5 L328.6 713.7 L328.6 723.7 L365.0 695.5Z" fill="#93b5de" stroke="#1f2b4d" stroke-width="0.9" stroke-linejoin="round"/>
<path d="M358.5 681.0 L365.0 685.5 L328.6 713.7 L321.7 709.0Z" fill="#e6eef7" stroke="#1f2b4d" stroke-width="1.0" stroke-linejoin="round"/>
<path d="M289.7 687.6 L344.6 724.4 L344.6 734.4 L289.7 697.6Z" fill="#6390ca" stroke="#1f2b4d" stroke-width="0.9" stroke-linejoin="round"/>
<path d="M351.5 718.8 L344.6 724.4 L344.6 734.4 L351.5 728.8Z" fill="#93b5de" stroke="#1f2b4d" stroke-width="0.9" stroke-linejoin="round"/>
<path d="M297.2 682.3 L351.5 718.8 L344.6 724.4 L289.7 687.6Z" fill="#e6eef7" stroke="#1f2b4d" stroke-width="1.0" stroke-linejoin="round"/>
<path d="M203.2 702.3 L244.9 729.5 L244.9 739.5 L203.2 712.3Z" fill="#6390ca" stroke="#1f2b4d" stroke-width="0.9" stroke-linejoin="round"/>
<path d="M252.3 724.1 L244.9 729.5 L244.9 739.5 L252.3 734.1Z" fill="#93b5de" stroke="#1f2b4d" stroke-width="0.9" stroke-linejoin="round"/>
<path d="M211.0 697.1 L252.3 724.1 L244.9 729.5 L203.2 702.3Z" fill="#e6eef7" stroke="#1f2b4d" stroke-width="1.0" stroke-linejoin="round"/>
<path d="M337.7 719.8 L344.6 724.4 L344.6 734.4 L337.7 729.8Z" fill="#6390ca" stroke="#1f2b4d" stroke-width="0.9" stroke-linejoin="round"/>
<path d="M367.6 706.0 L344.6 724.4 L344.6 734.4 L367.6 716.0Z" fill="#93b5de" stroke="#1f2b4d" stroke-width="0.9" stroke-linejoin="round"/>
<path d="M360.9 701.4 L367.6 706.0 L344.6 724.4 L337.7 719.8Z" fill="#e6eef7" stroke="#1f2b4d" stroke-width="1.0" stroke-linejoin="round"/>
<path d="M255.9 689.1 L328.5 737.3 L328.5 747.3 L255.9 699.1Z" fill="#6390ca" stroke="#1f2b4d" stroke-width="0.9" stroke-linejoin="round"/>
<path d="M335.4 731.7 L328.5 737.3 L328.5 747.3 L335.4 741.7Z" fill="#93b5de" stroke="#1f2b4d" stroke-width="0.9" stroke-linejoin="round"/>
<path d="M263.6 683.8 L335.4 731.7 L328.5 737.3 L255.9 689.1Z" fill="#e6eef7" stroke="#1f2b4d" stroke-width="1.0" stroke-linejoin="round"/>
<path d="M271.7 723.3 L295.7 739.1 L295.7 749.1 L271.7 733.3Z" fill="#6390ca" stroke="#1f2b4d" stroke-width="0.9" stroke-linejoin="round"/>
<path d="M302.8 733.6 L295.7 739.1 L295.7 749.1 L302.8 743.6Z" fill="#93b5de" stroke="#1f2b4d" stroke-width="0.9" stroke-linejoin="round"/>
<path d="M279.0 717.9 L302.8 733.6 L295.7 739.1 L271.7 723.3Z" fill="#e6eef7" stroke="#1f2b4d" stroke-width="1.0" stroke-linejoin="round"/>
<path d="M184.8 737.8 L192.5 742.8 L192.5 752.8 L184.8 747.8Z" fill="#6390ca" stroke="#1f2b4d" stroke-width="0.9" stroke-linejoin="round"/>
<path d="M217.7 725.2 L192.5 742.8 L192.5 752.8 L217.7 735.2Z" fill="#93b5de" stroke="#1f2b4d" stroke-width="0.9" stroke-linejoin="round"/>
<path d="M210.2 720.4 L217.7 725.2 L192.5 742.8 L184.8 737.8Z" fill="#e6eef7" stroke="#1f2b4d" stroke-width="1.0" stroke-linejoin="round"/>
<path d="M220.1 737.0 L227.7 741.9 L227.7 751.9 L220.1 747.0Z" fill="#6390ca" stroke="#1f2b4d" stroke-width="0.9" stroke-linejoin="round"/>
<path d="M252.3 724.1 L227.7 741.9 L227.7 751.9 L252.3 734.1Z" fill="#93b5de" stroke="#1f2b4d" stroke-width="0.9" stroke-linejoin="round"/>
<path d="M245.0 719.3 L252.3 724.1 L227.7 741.9 L220.1 737.0Z" fill="#e6eef7" stroke="#1f2b4d" stroke-width="1.0" stroke-linejoin="round"/>
<path d="M288.4 734.4 L295.7 739.1 L295.7 749.1 L288.4 744.4Z" fill="#6390ca" stroke="#1f2b4d" stroke-width="0.9" stroke-linejoin="round"/>
<path d="M319.2 720.9 L295.7 739.1 L295.7 749.1 L319.2 730.9Z" fill="#93b5de" stroke="#1f2b4d" stroke-width="0.9" stroke-linejoin="round"/>
<path d="M312.2 716.2 L319.2 720.9 L295.7 739.1 L288.4 734.4Z" fill="#e6eef7" stroke="#1f2b4d" stroke-width="1.0" stroke-linejoin="round"/>
<path d="M220.1 737.0 L245.2 753.2 L245.2 763.2 L220.1 747.0Z" fill="#6390ca" stroke="#1f2b4d" stroke-width="0.9" stroke-linejoin="round"/>
<path d="M252.5 747.8 L245.2 753.2 L245.2 763.2 L252.5 757.8Z" fill="#93b5de" stroke="#1f2b4d" stroke-width="0.9" stroke-linejoin="round"/>
<path d="M227.6 731.6 L252.5 747.8 L245.2 753.2 L220.1 737.0Z" fill="#e6eef7" stroke="#1f2b4d" stroke-width="1.0" stroke-linejoin="round"/>
<path d="M148.9 714.8 L210.4 754.3 L210.4 764.3 L148.9 724.8Z" fill="#6390ca" stroke="#1f2b4d" stroke-width="0.9" stroke-linejoin="round"/>
<path d="M217.9 748.9 L210.4 754.3 L210.4 764.3 L217.9 758.9Z" fill="#93b5de" stroke="#1f2b4d" stroke-width="0.9" stroke-linejoin="round"/>
<path d="M156.9 709.7 L217.9 748.9 L210.4 754.3 L148.9 714.8Z" fill="#e6eef7" stroke="#1f2b4d" stroke-width="1.0" stroke-linejoin="round"/>
<path d="M305.2 745.4 L325.6 758.8 L325.6 768.8 L305.2 755.4Z" fill="#6390ca" stroke="#1f2b4d" stroke-width="0.9" stroke-linejoin="round"/>
<path d="M332.4 753.2 L325.6 758.8 L325.6 768.8 L332.4 763.2Z" fill="#93b5de" stroke="#1f2b4d" stroke-width="0.9" stroke-linejoin="round"/>
<path d="M312.2 739.9 L332.4 753.2 L325.6 758.8 L305.2 745.4Z" fill="#e6eef7" stroke="#1f2b4d" stroke-width="1.0" stroke-linejoin="round"/>
<path d="M120.0 715.0 L196.9 764.0 L196.9 774.0 L120.0 725.0Z" fill="#6390ca" stroke="#1f2b4d" stroke-width="0.9" stroke-linejoin="round"/>
<path d="M204.4 758.7 L196.9 764.0 L196.9 774.0 L204.4 768.7Z" fill="#93b5de" stroke="#1f2b4d" stroke-width="0.9" stroke-linejoin="round"/>
<path d="M128.2 709.9 L204.4 758.7 L196.9 764.0 L120.0 715.0Z" fill="#e6eef7" stroke="#1f2b4d" stroke-width="1.0" stroke-linejoin="round"/>
<path d="M189.1 759.0 L196.9 764.0 L196.9 774.0 L189.1 769.0Z" fill="#6390ca" stroke="#1f2b4d" stroke-width="0.9" stroke-linejoin="round"/>
<path d="M217.9 748.9 L196.9 764.0 L196.9 774.0 L217.9 758.9Z" fill="#93b5de" stroke="#1f2b4d" stroke-width="0.9" stroke-linejoin="round"/>
<path d="M210.2 744.0 L217.9 748.9 L196.9 764.0 L189.1 759.0Z" fill="#e6eef7" stroke="#1f2b4d" stroke-width="1.0" stroke-linejoin="round"/>
<path d="M271.8 747.0 L296.4 763.0 L296.4 773.0 L271.8 757.0Z" fill="#6390ca" stroke="#1f2b4d" stroke-width="0.9" stroke-linejoin="round"/>
<path d="M303.3 757.5 L296.4 763.0 L296.4 773.0 L303.3 767.5Z" fill="#93b5de" stroke="#1f2b4d" stroke-width="0.9" stroke-linejoin="round"/>
<path d="M279.0 741.5 L303.3 757.5 L296.4 763.0 L271.8 747.0Z" fill="#e6eef7" stroke="#1f2b4d" stroke-width="1.0" stroke-linejoin="round"/>
<path d="M220.6 760.8 L228.4 765.8 L228.4 775.8 L220.6 770.8Z" fill="#6390ca" stroke="#1f2b4d" stroke-width="0.9" stroke-linejoin="round"/>
<path d="M286.2 722.7 L228.4 765.8 L228.4 775.8 L286.2 732.7Z" fill="#93b5de" stroke="#1f2b4d" stroke-width="0.9" stroke-linejoin="round"/>
<path d="M279.0 717.9 L286.2 722.7 L228.4 765.8 L220.6 760.8Z" fill="#e6eef7" stroke="#1f2b4d" stroke-width="1.0" stroke-linejoin="round"/>
<path d="M255.2 759.7 L262.8 764.6 L262.8 774.6 L255.2 769.7Z" fill="#6390ca" stroke="#1f2b4d" stroke-width="0.9" stroke-linejoin="round"/>
<path d="M286.3 746.3 L262.8 764.6 L262.8 774.6 L286.3 756.3Z" fill="#93b5de" stroke="#1f2b4d" stroke-width="0.9" stroke-linejoin="round"/>
<path d="M279.0 741.5 L286.3 746.3 L262.8 764.6 L255.2 759.7Z" fill="#e6eef7" stroke="#1f2b4d" stroke-width="1.0" stroke-linejoin="round"/>
<path d="M289.0 758.2 L296.4 763.0 L296.4 773.0 L289.0 768.2Z" fill="#6390ca" stroke="#1f2b4d" stroke-width="0.9" stroke-linejoin="round"/>
<path d="M319.4 744.6 L296.4 763.0 L296.4 773.0 L319.4 754.6Z" fill="#93b5de" stroke="#1f2b4d" stroke-width="0.9" stroke-linejoin="round"/>
<path d="M312.2 739.9 L319.4 744.6 L296.4 763.0 L289.0 758.2Z" fill="#e6eef7" stroke="#1f2b4d" stroke-width="1.0" stroke-linejoin="round"/>
<path d="M220.6 760.8 L264.3 788.8 L264.3 798.8 L220.6 770.8Z" fill="#6390ca" stroke="#1f2b4d" stroke-width="0.9" stroke-linejoin="round"/>
<path d="M271.2 783.2 L264.3 788.8 L264.3 798.8 L271.2 793.2Z" fill="#93b5de" stroke="#1f2b4d" stroke-width="0.9" stroke-linejoin="round"/>
<path d="M228.0 755.4 L271.2 783.2 L264.3 788.8 L220.6 760.8Z" fill="#e6eef7" stroke="#1f2b4d" stroke-width="1.0" stroke-linejoin="round"/>
<path d="M256.5 783.8 L264.3 788.8 L264.3 798.8 L256.5 793.8Z" fill="#6390ca" stroke="#1f2b4d" stroke-width="0.9" stroke-linejoin="round"/>
<path d="M287.3 770.3 L264.3 788.8 L264.3 798.8 L287.3 780.3Z" fill="#93b5de" stroke="#1f2b4d" stroke-width="0.9" stroke-linejoin="round"/>
<path d="M279.8 765.5 L287.3 770.3 L264.3 788.8 L256.5 783.8Z" fill="#e6eef7" stroke="#1f2b4d" stroke-width="1.0" stroke-linejoin="round"/>
<path d="M207.3 770.6 L266.0 808.0 L266.0 818.0 L207.3 780.6Z" fill="#6390ca" stroke="#1f2b4d" stroke-width="0.9" stroke-linejoin="round"/>
<path d="M272.8 802.4 L266.0 808.0 L266.0 818.0 L272.8 812.4Z" fill="#93b5de" stroke="#1f2b4d" stroke-width="0.9" stroke-linejoin="round"/>
<path d="M214.7 765.2 L272.8 802.4 L266.0 808.0 L207.3 770.6Z" fill="#e6eef7" stroke="#1f2b4d" stroke-width="1.0" stroke-linejoin="round"/>
<path d="M258.1 803.0 L266.0 808.0 L266.0 818.0 L258.1 813.0Z" fill="#6390ca" stroke="#1f2b4d" stroke-width="0.9" stroke-linejoin="round"/>
<path d="M379.7 714.2 L266.0 808.0 L266.0 818.0 L379.7 724.2Z" fill="#93b5de" stroke="#1f2b4d" stroke-width="0.9" stroke-linejoin="round"/>
<path d="M373.0 709.7 L379.7 714.2 L266.0 808.0 L258.1 803.0Z" fill="#e6eef7" stroke="#1f2b4d" stroke-width="1.0" stroke-linejoin="round"/>
<path d="M120.0 715.0 L266.0 808.0 L266.0 832.0 L120.0 739.0Z" fill="#6491ca" stroke="#1f2b4d" stroke-width="1.6" stroke-linejoin="round"/>
<path d="M392.0 704.0 L266.0 808.0 L266.0 832.0 L392.0 728.0Z" fill="#a7c3e3" stroke="#1f2b4d" stroke-width="1.6" stroke-linejoin="round"/>

<g fill="none" stroke="#ef8a5e" stroke-width="2.6" stroke-linejoin="round" stroke-linecap="round">
<path d="M333 672 L283 700 V716"/>
<path d="M284 727 L341 762 V781 L357 788"/>
</g>
<path d="M278.5 713 L283 721 L287.5 713 Z" fill="#ef8a5e"/>
<path d="M354 782 L364 790 L351 793 Z" fill="#ef8a5e"/>
<!-- small figure in maze -->
<g stroke="#1f2b4d" stroke-width="1.2" stroke-linejoin="round" fill="#3f8ed0">
<circle cx="266.5" cy="683.5" r="4.8"/>
<path d="M259 706 V693 C259 690 262 688.5 266.5 688.5 C271 688.5 274 690 274 693 V706 H271.5 V727 H268 V710 H265 V727 H261.5 V706 Z"/>
</g>
<!-- pedestal -->
<g stroke="#1f2b4d" stroke-width="1.8" stroke-linejoin="round">
<path d="M372 768 L405.2 780.2 V821 L372 802.4 Z" fill="#9db9dc"/>
<path d="M405.2 780.2 L438.5 765.4 V803.6 L405.2 821 Z" fill="#c4d5ea"/>
<path d="M372 768 L404 755.6 L438.5 765.4 L405.2 780.2 Z" fill="#e2ebf4"/>
</g>
<!-- cheering person -->
<g stroke="#1f2b4d" stroke-width="1.6" stroke-linejoin="round">
<path d="M405 628 V641 M391 636 L396 644 M419 636 L414 644" stroke="#eba35a" stroke-width="2" stroke-linecap="round" fill="none"/>
<path d="M398 684 L383 653 M413 684 L428 653" stroke="#1f2b4d" stroke-width="9.5" stroke-linecap="round" fill="none"/>
<path d="M398 684 L383 653 M413 684 L428 653" stroke="#3d5f9b" stroke-width="6.3" stroke-linecap="round" fill="none"/>
<path d="M396 716 L392.5 767 H401.5 L405.5 725 L409.5 767 H418.5 L415 716 Z" fill="#3d5f9b"/>
<path d="M395 680 C395 675 400 673.5 405.5 673.5 C411 673.5 416 675 416 680 L416 716 H395 Z" fill="#3d5f9b"/>
<path d="M396 716 H415" stroke-width="1.2"/>
<circle cx="405.5" cy="665" r="7.6" fill="#3d5f9b"/>
<circle cx="382" cy="650" r="4.2" fill="#f2a36c" stroke-width="1.4"/>
<circle cx="429" cy="650" r="4.2" fill="#f2a36c" stroke-width="1.4"/>
</g>
</g>

<!-- small blocks icon -->
<g stroke="#1f2b4d" stroke-width="1.6" stroke-linejoin="round">
<path d="M60 576.5 H135" stroke-width="1.8"/>
<rect x="79.6" y="551" width="23.4" height="25.5" fill="#4a92c4"/>
<path d="M79.6 576.5 L103 551 V576.5 Z" fill="#3f7fb3" stroke="none"/>
<path d="M103 561 H128 V576.5 H103 Z" fill="#f2aa52"/>
<path d="M103 561 L112 570 L128 566" fill="none" stroke-width="1.2"/>
<path d="M110.5 530 L114 526.5 L118 530 L122 526.5 L127.5 530 V568 H110.5 Z" fill="#3f80b9"/>
<path d="M119 532 V568" stroke="#6fa6d4" stroke-width="3"/>
<path d="M110.5 536 H127.5" stroke-width="1.2"/>
</g>
</g>


<!-- TABLE -->
<g id="table">
<clipPath id="tclip"><rect x="855.6" y="677" width="396.4" height="167.4" rx="9"/></clipPath>
<g clip-path="url(#tclip)">
<rect x="855.6" y="677" width="396.4" height="167.4" fill="#edf0f4"/>
<rect x="855.6" y="677" width="96.6" height="32.3" fill="url(#thP)"/>
<rect x="952.2" y="677" width="142.2" height="32.3" fill="url(#thB)"/>
<rect x="1094.4" y="677" width="157.6" height="32.3" fill="url(#thG)"/>
<rect x="855.6" y="709.3" width="396.4" height="45.4" fill="#eef1f5"/>
<rect x="855.6" y="754.7" width="396.4" height="45.3" fill="#ecf0f3"/>
<rect x="855.6" y="800" width="396.4" height="44.4" fill="#eef1f5"/>
</g>
<g stroke="#5a6c90" stroke-width="1.4">
<path d="M855.6 709.3 H1252" stroke="#2b3a5c" stroke-width="1.6"/>
<path d="M855.6 754.7 H1252 M855.6 800 H1252"/>
<path d="M952.2 677 V844.4 M1094.4 677 V844.4"/>
</g>
<rect x="855.6" y="677" width="396.4" height="167.4" rx="9" fill="none" stroke="#2b3a5c" stroke-width="1.8"/>
<text class="th" x="861.55" y="698.2" textLength="50.90" lengthAdjust="spacingAndGlyphs">Attribute</text>
<text class="th" x="957.85" y="698.2" textLength="128.40" lengthAdjust="spacingAndGlyphs">Sales Performer Focus</text>
<text class="th" x="1100.85" y="698.2" textLength="119.90" lengthAdjust="spacingAndGlyphs">Sales Manager Focus</text>
<text class="tb" x="861.55" y="736.5" textLength="84.40" lengthAdjust="spacingAndGlyphs">Primary Drivers</text>
<text class="tb" x="958.35" y="736.5" textLength="113.90" lengthAdjust="spacingAndGlyphs">Ego Drive &amp; Empathy</text>
<text class="tb" x="1100.55" y="728.5" textLength="111.40" lengthAdjust="spacingAndGlyphs">Goal Achievement &amp;</text>
<text class="tb" x="1100.55" y="744.2" textLength="52.30" lengthAdjust="spacingAndGlyphs">Coaching</text>
<text class="tb" x="861.55" y="782" textLength="61.60" lengthAdjust="spacingAndGlyphs">Focus Area</text>
<text class="tb" x="958.35" y="782" textLength="91.20" lengthAdjust="spacingAndGlyphs">Individual Result</text>
<text class="tb" x="1100.55" y="773.8" textLength="84.60" lengthAdjust="spacingAndGlyphs">Team Growth &amp;</text>
<text class="tb" x="1100.55" y="789.6" textLength="128.90" lengthAdjust="spacingAndGlyphs">Compensation Strategy</text>
<text class="tb" x="861.55" y="827" textLength="52.50" lengthAdjust="spacingAndGlyphs">Core Skill</text>
<text class="tb" x="958.35" y="827" textLength="121.30" lengthAdjust="spacingAndGlyphs">Job Matching/Closing</text>
<text class="tb" x="1100.55" y="818.8" textLength="145.00" lengthAdjust="spacingAndGlyphs">Psychological Connections</text>
<text class="tb" x="1100.55" y="834.3" textLength="83.50" lengthAdjust="spacingAndGlyphs">&amp; Development</text>
</g>

<!-- TEXT -->
<g id="text">
<text x="53" y="89.2" font-size="56" font-weight="bold" fill="#14244a" textLength="1497" lengthAdjust="spacingAndGlyphs">The Blueprint for Building a High-Performance Sales Team</text>
<rect x="272" y="127" width="70" height="1.6" fill="url(#subL)"/>
<rect x="1295" y="127" width="72" height="1.6" fill="url(#subR)"/>
<text x="355.35" y="136" font-size="23.5" fill="#1b1e26" textLength="925.30" lengthAdjust="spacingAndGlyphs">Guiding leaders through the journey of recruiting and nurturing top-tier sales talent.</text>
<text x="56.97" y="212" font-size="29" font-weight="bold" fill="#3784b7" textLength="118.06" lengthAdjust="spacingAndGlyphs">Phase 1:</text>
<text x="181.57" y="212" font-size="29" font-weight="bold" fill="#131b30" textLength="372.46" lengthAdjust="spacingAndGlyphs">Finding the Perfect Match</text>
<text x="893.97" y="212" font-size="29" font-weight="bold" fill="#3784b7" textLength="124.06" lengthAdjust="spacingAndGlyphs">Phase 2:</text>
<text x="1022.97" y="212" font-size="29" font-weight="bold" fill="#131b30" textLength="507.56" lengthAdjust="spacingAndGlyphs">Developing and Leading Excellence</text>

<text class="h" x="198.06" y="279.5" textLength="174.48" lengthAdjust="spacingAndGlyphs">Identify the Core</text>
<text class="h" x="198.06" y="306" textLength="179.48" lengthAdjust="spacingAndGlyphs">Traits of Success</text>
<text class="b" x="198.48" y="333.2" textLength="257.24" lengthAdjust="spacingAndGlyphs">Focus on psychological drivers like</text>
<text class="b" x="198.48" y="353" textLength="249.94" lengthAdjust="spacingAndGlyphs">empathy, ego drive, ego strength,</text>
<text class="b" x="198.48" y="372.6" textLength="172.94" lengthAdjust="spacingAndGlyphs">and internal motivation.</text>

<text class="h" x="238.66" y="464.2" textLength="174.88" lengthAdjust="spacingAndGlyphs">Master Strategic</text>
<text class="h" x="238.66" y="490.8" textLength="142.88" lengthAdjust="spacingAndGlyphs">Job Matching</text>
<text class="b" x="239.08" y="518" textLength="230.34" lengthAdjust="spacingAndGlyphs">Align the specific requirements</text>
<text class="b" x="239.08" y="537.7" textLength="209.24" lengthAdjust="spacingAndGlyphs">of the role with the personal</text>
<text class="b" x="239.08" y="556.9" textLength="187.34" lengthAdjust="spacingAndGlyphs">qualities of the applicant.</text>

<text class="h" x="463.16" y="664.2" textLength="147.38" lengthAdjust="spacingAndGlyphs">Overcome the</text>
<text class="h" x="463.16" y="690" textLength="157.38" lengthAdjust="spacingAndGlyphs">“Sales Enigma”</text>
<text class="b" x="463.58" y="718" textLength="221.54" lengthAdjust="spacingAndGlyphs">Prepare mentally to recruit for</text>
<text class="b" x="463.58" y="737.7" textLength="201.94" lengthAdjust="spacingAndGlyphs">high-demand roles that are</text>
<text class="b" x="463.58" y="757" textLength="233.54" lengthAdjust="spacingAndGlyphs">often perceived as unfavorable.</text>

<text class="h" x="919.66" y="279.6" textLength="165.28" lengthAdjust="spacingAndGlyphs">Apply Scientific</text>
<text class="h" x="919.66" y="305.6" textLength="196.68" lengthAdjust="spacingAndGlyphs">Selection Methods</text>
<text class="b" x="920.08" y="333.3" textLength="190.44" lengthAdjust="spacingAndGlyphs">Use psychological testing</text>
<text class="b" x="920.08" y="353" textLength="195.84" lengthAdjust="spacingAndGlyphs">and in-depth interviews to</text>
<text class="b" x="920.08" y="373.7" textLength="145.64" lengthAdjust="spacingAndGlyphs">filter for ”A” players.</text>

<text class="h" x="877.26" y="464.8" textLength="155.88" lengthAdjust="spacingAndGlyphs">Cultivate Sales</text>
<text class="h" x="877.26" y="490.7" textLength="117.28" lengthAdjust="spacingAndGlyphs">Leadership</text>

<text class="lb" x="854.98" y="611" textLength="103.64" lengthAdjust="spacingAndGlyphs">Sales Performer</text>
<text class="lb" x="887.98" y="628" textLength="38.04" lengthAdjust="spacingAndGlyphs">Focus</text>
<text class="lb" x="1104.78" y="650.4" textLength="137.44" lengthAdjust="spacingAndGlyphs">Sales Manager Focus</text>

<text class="h" x="1292.46" y="775.8" textLength="257.88" lengthAdjust="spacingAndGlyphs">Adapt to the VUCA World</text>
<text class="b" x="1292.88" y="803.3" textLength="221.84" lengthAdjust="spacingAndGlyphs">Use continuous reflection and</text>
<text class="b" x="1292.88" y="823" textLength="241.64" lengthAdjust="spacingAndGlyphs">improvement to ensure the team</text>
<text class="b" x="1292.88" y="842.8" textLength="227.84" lengthAdjust="spacingAndGlyphs">remains fit for volatiie markets.</text>

<g fill="none" stroke="#111" stroke-width="1.8"><path d="M1484 887.5 V884 A7.3 7.3 0 0 1 1498.6 884 V887.5"/><path d="M1488.3 887.5 V885.5 A4.6 4.6 0 0 1 1497.5 885.5 V887.5"/><path d="M1484 887.5 V884 A3.6 3.6 0 0 1 1491.2 884 V887.5" stroke-width="1.4"/></g>
<text x="1503.41" y="887" font-size="15.5" fill="#111" stroke="#111" stroke-width="0.45" textLength="91.68" lengthAdjust="spacingAndGlyphs">NotebookLM</text>
</g>
</svg>
</body></html>
